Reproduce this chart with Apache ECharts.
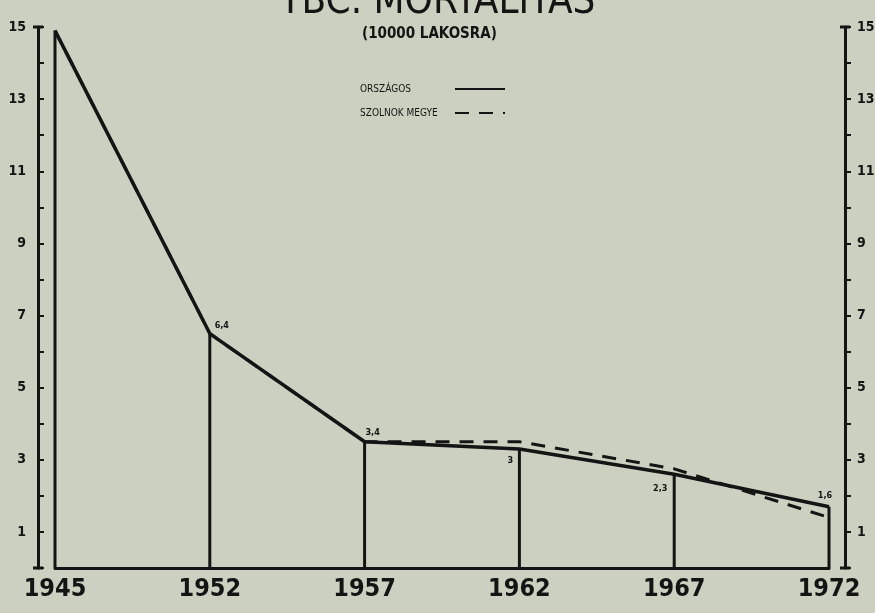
<!DOCTYPE html>
<html>
<head>
<meta charset="utf-8">
<script src="https://cdn.jsdelivr.net/npm/echarts@6/dist/echarts.min.js"></script>
<style>
html,body{margin:0;padding:0;background:#ccd0c0;}
#c{width:875px;height:613px;}
</style>
</head>
<body>
<div id="c"></div>
<script>
const years = ['1945', '1952', '1957', '1962', '1967', '1972'];
const orszagos = [14.9, 6.5, 3.5, 3.3, 2.6, 1.7];
const szolnok = [14.9, 6.5, 3.5, 3.5, 2.75, 1.4];
const valueLabels = ['', '6,4', '3,4', '3', '2,3', '1,6'];
const yTicks = [1, 3, 5, 7, 9, 11, 13, 15];

const labelOffsets = [[0, 0], [12, 2], [8, 0], [-9, 21], [-14, 24], [-4, -2]];
const ink = '#141414';

const chart = echarts.init(document.getElementById('c'));

const yAxisBase = {
  type: 'value', min: 0, max: 15, interval: 1,
  splitLine: { show: false },
  axisLine: { show: true, lineStyle: { color: ink, width: 3 }, symbol: ['rect', 'rect'], symbolSize: [10, 3] },
  axisTick: { show: true, length: 6, lineStyle: { color: ink, width: 2 } },
  axisLabel: {
    formatter: v => (yTicks.indexOf(v) >= 0 ? String(v) : ''),
    color: ink, fontWeight: 'bold', fontSize: 14, fontFamily: 'DejaVu Sans Condensed', margin: 12
  }
};

chart.setOption({
  backgroundColor: '#ccd0c0',
  animation: false,
  title: [
    { text: 'TBC. MORTALITÁS', left: 'center', top: -22,
      textStyle: { fontSize: 40, fontWeight: 'normal', color: ink, fontFamily: 'DejaVu Sans Condensed' } },
    { text: '(10000 LAKOSRA)', left: 357, top: 22,
      textStyle: { fontSize: 15, fontWeight: 'bold', color: ink, fontFamily: 'DejaVu Sans Condensed' } }
  ],
  legend: {
    orient: 'vertical', left: 355, top: 79, itemGap: 14, align: 'right',
    itemWidth: 50, itemHeight: 10,
    itemStyle: { opacity: 0 },
    data: ['ORSZÁGOS', 'SZOLNOK MEGYE'],
    formatter: n => '{a|' + n + '}',
    textStyle: { fontSize: 10, color: ink, fontFamily: 'DejaVu Sans Condensed',
      rich: { a: { width: 90, align: 'left', fontSize: 10, color: ink, fontFamily: 'DejaVu Sans Condensed' } } }
  },
  grid: { left: 55, right: 46, top: 27, bottom: 45, outerBoundsMode: 'none' },
  xAxis: {
    type: 'category', data: years, boundaryGap: false,
    axisLine: { lineStyle: { color: ink, width: 3 } },
    axisTick: { show: false },
    axisLabel: { color: ink, fontSize: 25, fontWeight: 'bold', fontFamily: 'DejaVu Sans Condensed', margin: 9 }
  },
  yAxis: [
    Object.assign({}, yAxisBase, { position: 'left', offset: 17,
      axisTick: Object.assign({}, yAxisBase.axisTick, { inside: true }) }),
    Object.assign({}, yAxisBase, { position: 'right', offset: 16 })
  ],
  series: [
    {
      type: 'bar', barWidth: 3, silent: true, z: 1,
      itemStyle: { color: ink },
      data: orszagos.map((v, i) => ({
        value: v,
        label: {
          show: valueLabels[i] !== '', formatter: valueLabels[i], position: 'top',
          offset: labelOffsets[i], fontSize: 9, fontWeight: 'bold', color: ink,
          fontFamily: 'DejaVu Sans Condensed'
        }
      }))
    },
    {
      name: 'SZOLNOK MEGYE', type: 'line', data: szolnok, symbol: 'none', z: 2,
      itemStyle: { color: ink },
      lineStyle: { color: ink, width: 3, type: [14, 10] }
    },
    {
      name: 'ORSZÁGOS', type: 'line', data: orszagos, symbol: 'none', z: 3,
      itemStyle: { color: ink },
      lineStyle: { color: ink, width: 3.5 }
    }
  ]
});
</script>
</body>
</html>
